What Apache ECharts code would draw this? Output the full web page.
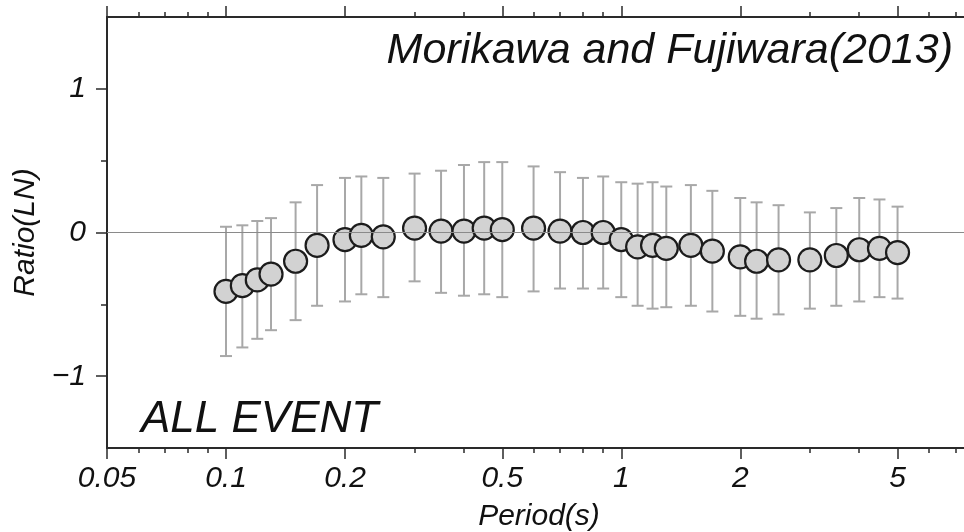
<!DOCTYPE html>
<html>
<head>
<meta charset="utf-8">
<script src="https://cdn.jsdelivr.net/npm/echarts@6/dist/echarts.min.js"></script>
<style>
  html, body { margin: 0; padding: 0; background: #fff; }
  #main { width: 964px; height: 532px; }
</style>
</head>
<body>
<div id="main"></div>
<script>
// period (s) of each point
const periods = [0.1, 0.11, 0.12, 0.13, 0.15, 0.17, 0.2, 0.22, 0.25, 0.3, 0.35, 0.4, 0.45, 0.5, 0.6, 0.7,
  0.8, 0.9, 1.0, 1.1, 1.2, 1.3, 1.5, 1.7, 2.0, 2.2, 2.5, 3.0, 3.5, 4.0, 4.5, 5.0];
// mean ln ratio
const means = [-0.41, -0.37, -0.33, -0.29, -0.20, -0.09, -0.05, -0.02, -0.03, 0.03, 0.01, 0.01, 0.03, 0.02, 0.03, 0.01,
  0.00, 0.00, -0.05, -0.10, -0.09, -0.11, -0.09, -0.13, -0.17, -0.20, -0.19, -0.19, -0.16, -0.12, -0.11, -0.14];
// error bar ends
const upper = [0.04, 0.05, 0.08, 0.10, 0.21, 0.33, 0.38, 0.39, 0.38, 0.41, 0.43, 0.47, 0.49, 0.49, 0.46, 0.42,
  0.38, 0.39, 0.35, 0.34, 0.35, 0.32, 0.33, 0.29, 0.24, 0.21, 0.19, 0.14, 0.17, 0.24, 0.23, 0.18];
const lower = [-0.86, -0.80, -0.74, -0.68, -0.61, -0.51, -0.48, -0.43, -0.45, -0.34, -0.42, -0.44, -0.43, -0.45, -0.41, -0.39,
  -0.39, -0.39, -0.45, -0.51, -0.53, -0.52, -0.51, -0.55, -0.58, -0.60, -0.57, -0.53, -0.51, -0.48, -0.45, -0.46];

// axis ticks (period values, drawn on a log10 scale)
const xMajor = [0.05, 0.1, 0.2, 0.5, 1, 2, 5];
const xMinor = [0.06, 0.07, 0.08, 0.09, 0.3, 0.4, 0.6, 0.7, 0.8, 0.9, 3, 4, 6, 7];
const xMin = 0.05, xMax = 7.67;
const yMajor = [-1, 0, 1];
const yMinor = [-0.5, 0.5];

const lg = v => Math.log10(v);
const FONT = 'Liberation Sans, Arial, Helvetica, sans-serif';
const AXIS_COLOR = '#2a2a2a';

const pts = periods.map((p, i) => [lg(p), means[i]]);
const bars = periods.map((p, i) => [lg(p), lower[i], upper[i]]);

function xAxisDef(pos, major, withLabel) {
  return {
    type: 'value', position: pos, min: lg(xMin), max: lg(xMax),
    axisLine: { show: major, onZero: false, lineStyle: { color: AXIS_COLOR, width: 2 } },
    axisTick: {
      show: true, inside: false, length: major ? 11 : 5,
      customValues: (major ? xMajor : xMinor).map(lg),
      lineStyle: { color: AXIS_COLOR, width: 1.5 }
    },
    axisLabel: {
      show: withLabel, margin: 16, customValues: xMajor.map(lg),
      fontFamily: FONT, fontStyle: 'italic', fontSize: 30, color: '#111',
      formatter: v => String(Number(Math.pow(10, v).toPrecision(3)))
    },
    splitLine: { show: false },
    name: withLabel ? 'Period(s)' : '',
    nameLocation: 'middle', nameGap: 54,
    nameTextStyle: { fontFamily: FONT, fontStyle: 'italic', fontSize: 30, color: '#111' }
  };
}

function yAxisDef(major) {
  return {
    type: 'value', position: 'left', min: -1.5, max: 1.5,
    axisLine: { show: major, onZero: false, lineStyle: { color: AXIS_COLOR, width: 2 } },
    axisTick: {
      show: true, length: major ? 11 : 6,
      customValues: major ? yMajor : yMinor,
      lineStyle: { color: AXIS_COLOR, width: 1.5 }
    },
    axisLabel: {
      show: major, margin: 21, customValues: yMajor,
      fontFamily: FONT, fontStyle: 'italic', fontSize: 30, color: '#111',
      formatter: v => (v < 0 ? '\u2212' + Math.abs(v) : String(v))
    },
    splitLine: { show: false },
    name: major ? 'Ratio(LN)' : '',
    nameLocation: 'middle', nameGap: 62, nameRotate: 90,
    nameTextStyle: { fontFamily: FONT, fontStyle: 'italic', fontSize: 30, color: '#111' }
  };
}

const chart = echarts.init(document.getElementById('main'));
chart.setOption({
  animation: false,
  backgroundColor: '#fff',
  grid: { left: 107, top: 17, bottom: 84, right: -7, containLabel: false, outerBoundsMode: 'none' },
  title: [
    {
      text: 'Morikawa and Fujiwara(2013)', right: 6, top: 25,
      textStyle: { fontFamily: FONT, fontStyle: 'italic', fontWeight: 'normal', fontSize: 43, color: '#111' }
    },
    {
      text: 'ALL EVENT', left: 136, top: 393,
      textStyle: { fontFamily: FONT, fontStyle: 'italic', fontWeight: 'normal', fontSize: 44, color: '#111' }
    }
  ],
  xAxis: [
    xAxisDef('bottom', true, true),
    xAxisDef('bottom', false, false),
    xAxisDef('top', true, false),
    xAxisDef('top', false, false)
  ],
  yAxis: [yAxisDef(true), yAxisDef(false)],
  series: [
    {
      type: 'custom', z: 2,
      data: bars,
      encode: { x: 0, y: [1, 2] },
      renderItem: function (params, api) {
        const x = api.value(0);
        const lo = api.coord([x, api.value(1)]);
        const hi = api.coord([x, api.value(2)]);
        const cap = 6;
        const style = { stroke: '#a8a8a8', lineWidth: 2 };
        return {
          type: 'group',
          children: [
            { type: 'line', shape: { x1: lo[0], y1: lo[1], x2: hi[0], y2: hi[1] }, style: style },
            { type: 'line', shape: { x1: lo[0] - cap, y1: lo[1], x2: lo[0] + cap, y2: lo[1] }, style: style },
            { type: 'line', shape: { x1: hi[0] - cap, y1: hi[1], x2: hi[0] + cap, y2: hi[1] }, style: style }
          ]
        };
      }
    },
    {
      type: 'scatter', z: 3,
      data: pts,
      symbol: 'circle', symbolSize: 23,
      itemStyle: { color: '#d2d2d2', borderColor: '#1c1c1c', borderWidth: 2.2, opacity: 1 },
      emphasis: { disabled: true },
      markLine: {
        silent: true, symbol: 'none', z: 4,
        label: { show: false },
        lineStyle: { color: '#8a8a8a', width: 1, type: 'solid' },
        data: [{ yAxis: 0 }]
      }
    }
  ]
});
</script>
</body>
</html>
